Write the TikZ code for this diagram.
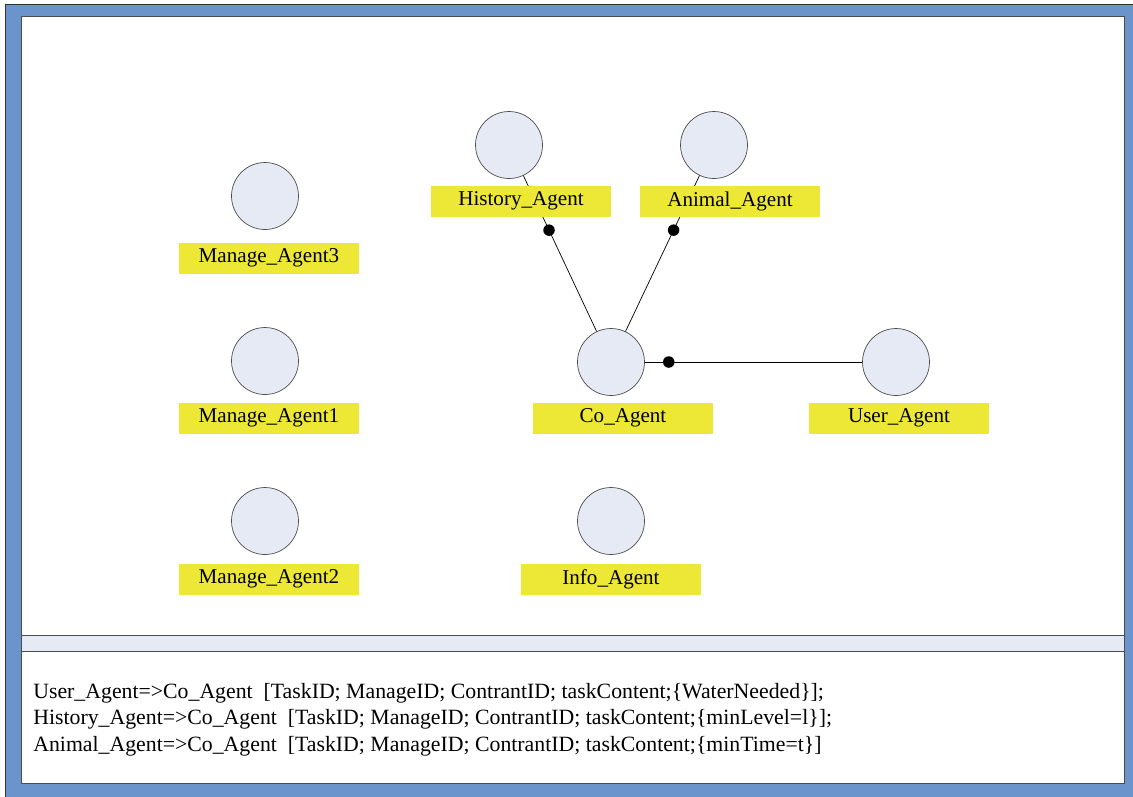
\documentclass[tikz,border=0pt]{standalone}
\usepackage{fontspec}
\setmainfont{Liberation Serif}
\usetikzlibrary{positioning}
\definecolor{frameblue}{HTML}{6C94CC}
\definecolor{agentfill}{HTML}{E6EAF4}
\definecolor{labelyellow}{HTML}{EDE835}
\begin{document}
\begin{tikzpicture}[x=0.02cm,y=-0.02cm]
\tikzstyle{agent}=[shape=circle,draw=black!70,fill=agentfill,minimum size=1.34cm,inner sep=0pt]
\tikzstyle{tag}=[fill=labelyellow,minimum width=3.6cm,minimum height=0.62cm,inner sep=0pt,font=\fontsize{12}{14}\selectfont]
\tikzstyle{dot}=[shape=circle,fill=black,minimum size=0.23cm,inner sep=0pt]
\tikzstyle{msg}=[anchor=base west,inner sep=0pt,font=\fontsize{12.4}{14}\selectfont]

% window frame
\useasboundingbox (0,0) rectangle (1133,796);
\fill[white] (0,0) rectangle (1133,796);
\filldraw[fill=frameblue,draw=black!80] (5,4) rectangle (1140,803);
\filldraw[fill=white,draw=black!70] (21,16) rectangle (1124,783);
\filldraw[fill=agentfill,draw=black!70] (21,635) rectangle (1124,651);

% agents
\node[agent] (M3) at (265,196) {};
\node[agent] (M1) at (265,361) {};
\node[agent] (M2) at (265,521) {};
\node[agent] (H) at (509,145) {};
\node[agent] (A) at (714,145) {};
\node[agent] (C) at (611,362) {};
\node[agent] (U) at (896,362) {};
\node[agent] (I) at (611,521) {};

\path [-] (H) edge node[dot,pos=0.35] {} (C);
\path [-] (A) edge node[dot,pos=0.35] {} (C);
\path [-] (C) edge node[dot,pos=0.11] {} (U);

% labels
\node[tag] (M3label) at (269,258) {Manage\_Agent3};
\node[tag] (M1label) at (269,418) {Manage\_Agent1};
\node[tag] (M2label) at (269,579) {Manage\_Agent2};
\node[tag] (Hlabel) at (521,201) {History\_Agent};
\node[tag] (Alabel) at (730,201) {Animal\_Agent};
\node[tag] (Clabel) at (623,418) {Co\_Agent};
\node[tag] (Ulabel) at (899,418) {User\_Agent};
\node[tag] (Ilabel) at (611,579) {Info\_Agent};

% messages
\node[msg] (msgU) at (33,698) {User\_Agent=>Co\_Agent\ \ [TaskID; ManageID; ContrantID; taskContent;\{WaterNeeded\}];};
\node[msg] (msgH) at (33,724.5) {History\_Agent=>Co\_Agent\ \ [TaskID; ManageID; ContrantID; taskContent;\{minLevel=l\}];};
\node[msg] (msgA) at (33,751) {Animal\_Agent=>Co\_Agent\ \ [TaskID; ManageID; ContrantID; taskContent;\{minTime=t\}]};

\end{tikzpicture}
\end{document}
